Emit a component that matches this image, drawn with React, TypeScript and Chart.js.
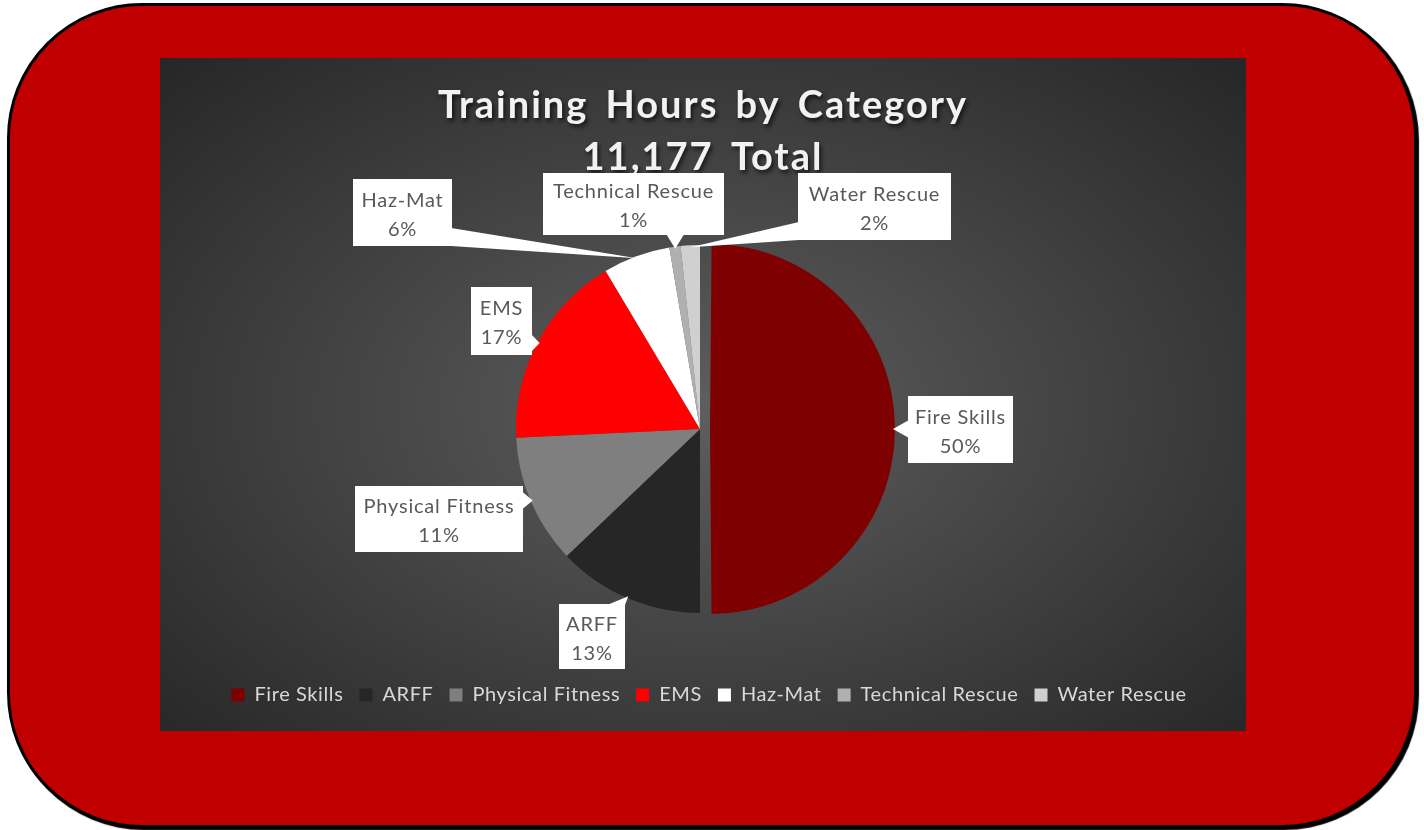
import React, { useEffect, useRef } from "react";
import { Chart, registerables } from "chart.js";
Chart.register(...registerables);

// ---- data ----
const categories = ["Fire Skills", "ARFF", "Physical Fitness", "EMS", "Haz-Mat", "Technical Rescue", "Water Rescue"];
const hours = [5589, 1440, 1270, 1920, 660, 110, 188];
const sliceColors = ["#7F0000", "#262626", "#7F7F7F", "#FF0000", "#FFFFFF", "#B0B0B0", "#D0D0D0"];
const explodePx = [10, 0, 0, 0, 0, 0, 0];
const titleLines = ["Training Hours by Category", "11,177 Total"];

// ---- layout (canvas px) of the callout boxes: x, y, w, h ----
const labelBoxes = [
  [748, 338, 105, 67],
  [399, 546, 66, 65],
  [195, 428, 168, 66],
  [311, 229, 61, 68],
  [193, 121, 99, 67],
  [383, 115, 181, 62],
  [638, 115, 153, 67],
];

const FONT = "Lato, 'Open Sans', sans-serif";
const LEGEND_SHIFT = 9;

const spacingPlugin = {
  id: "spacing",
  beforeUpdate(chart: any) {
    try { chart.ctx.letterSpacing = "0.6px"; } catch (e) {}
  },
  afterDatasetUpdate(chart: any) {
    // Chart.js enlarges an exploded half-pie by offset/4; keep the drawn radius equal to the others
    const meta = chart.getDatasetMeta(0);
    meta.data.forEach((arc: any, i: number) => {
      const o = explodePx[i] || 0;
      if (o) arc.outerRadius = arc.outerRadius - o + 1;
    });
  },
  afterLayout(chart: any) {
    if (chart.legend) {
      chart.legend.left += LEGEND_SHIFT;
      chart.legend.right += LEGEND_SHIFT;
    }
  },
};

const titlePlugin = {
  id: "customTitle",
  beforeDatasetsDraw(chart: any) {
    const ctx = chart.ctx;
    ctx.save();
    ctx.font = `bold 38px ${FONT}`;
    try { (ctx as any).letterSpacing = "2px"; (ctx as any).wordSpacing = "6px"; } catch (e) {}
    ctx.textAlign = "center";
    ctx.textBaseline = "middle";
    ctx.fillStyle = "#F2F2F2";
    ctx.shadowColor = "rgba(0,0,0,0.65)";
    ctx.shadowOffsetX = 2;
    ctx.shadowOffsetY = 3;
    ctx.shadowBlur = 4;
    ctx.fillText(titleLines[0], 543, 48);
    ctx.fillText(titleLines[1], 543, 100);
    ctx.restore();
  },
};

const calloutPlugin = {
  id: "callouts",
  afterDatasetsDraw(chart: any) {
    const ctx = chart.ctx;
    const meta = chart.getDatasetMeta(0);
    const data = chart.data.datasets[0].data as number[];
    const total = data.reduce((a, b) => a + b, 0);
    ctx.save();
    try { (ctx as any).letterSpacing = "0.8px"; } catch (e) {}
    meta.data.forEach((arc: any, i: number) => {
      const p = arc.getProps(["x", "y", "startAngle", "endAngle", "outerRadius"], true);
      const mid = (p.startAngle + p.endAngle) / 2;
      const off = explodePx[i] || 0;
      const r = p.outerRadius + 2 * off - 2;
      const tx = p.x + Math.cos(mid) * r;
      const ty = p.y + Math.sin(mid) * r;
      const [bx, by, bw, bh] = labelBoxes[i];
      const right = bx + bw, bottom = by + bh;
      const ex = Math.max(bx - tx, tx - right, 0);
      const ey = Math.max(by - ty, ty - bottom, 0);
      const hw = 9;
      let a: number[], b: number[];
      if (ex >= ey) {
        const sx = tx > right ? right - 1 : bx + 1;
        const cy = Math.min(Math.max(ty, by + hw), bottom - hw);
        a = [sx, cy - hw]; b = [sx, cy + hw];
      } else {
        const sy = ty > bottom ? bottom - 1 : by + 1;
        const cx = Math.min(Math.max(tx, bx + hw), right - hw);
        a = [cx - hw, sy]; b = [cx + hw, sy];
      }
      ctx.fillStyle = "#FFFFFF";
      ctx.beginPath();
      ctx.moveTo(a[0], a[1]);
      ctx.lineTo(tx, ty);
      ctx.lineTo(b[0], b[1]);
      ctx.closePath();
      ctx.fill();
      ctx.fillRect(bx, by, bw, bh);
      ctx.fillStyle = "#595959";
      ctx.font = `20px ${FONT}`;
      ctx.textAlign = "center";
      ctx.textBaseline = "middle";
      const cx = bx + bw / 2;
      ctx.fillText(categories[i], cx, by + bh / 2 - 12);
      ctx.fillText(Math.round((data[i] / total) * 100) + "%", cx, by + bh / 2 + 17);
    });
    ctx.restore();
  },
};

export default function App() {
  const ref = useRef<HTMLCanvasElement | null>(null);
  useEffect(() => {
    if (!ref.current) return;
    const chart = new Chart(ref.current, {
      type: "pie",
      data: {
        labels: categories,
        datasets: [
          {
            data: hours,
            backgroundColor: sliceColors,
            borderWidth: 0,
            offset: explodePx.map((o) => o * 4),
          },
        ],
      },
      options: {
        responsive: false,
        animation: false,
        events: [],
        radius: 184,
        layout: { padding: { left: 0, right: 6, top: 131, bottom: 16 } },
        plugins: {
          title: { display: false },
          tooltip: { enabled: false },
          legend: {
            display: true,
            position: "bottom",
            labels: {
              color: "#D9D9D9",
              font: { family: FONT, size: 20 },
              boxWidth: 13,
              boxHeight: 13,
              padding: 16,
            },
          },
        },
      } as any,
      plugins: [spacingPlugin, titlePlugin, calloutPlugin],
    });
    return () => chart.destroy();
  }, []);

  return (
    <div>
      <div
        style={{
          position: "absolute",
          left: 7,
          top: 3,
          width: 1410,
          height: 825,
          boxSizing: "border-box",
          border: "3px solid #000",
          borderRadius: 135,
          background: "#C00000",
          boxShadow: "2px 2px 1px #000",
        }}
      />
      <div
        style={{
          position: "absolute",
          left: 160,
          top: 58,
          width: 1086,
          height: 673,
          background: "radial-gradient(ellipse farthest-corner at 50% 52%, #5E5E5E 0%, #262626 100%)",
        }}
      >
        <canvas ref={ref} width={1086} height={673} style={{ display: "block" }} />
      </div>
    </div>
  );
}
